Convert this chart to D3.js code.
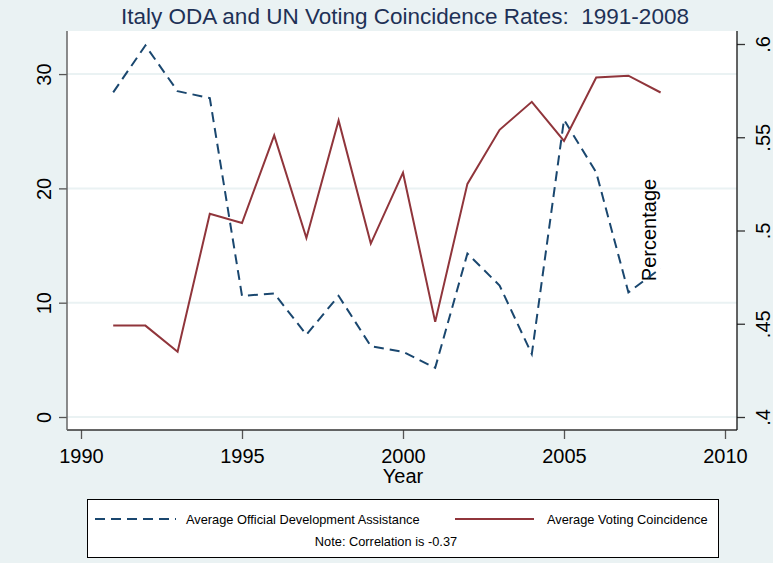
<!DOCTYPE html>
<html>
<head>
<meta charset="utf-8">
<script src="https://cdn.jsdelivr.net/npm/d3@7"></script>
<style>
  body { margin: 0; background: #eaf2f3; }
  text { font-family: "Liberation Sans", Arial, sans-serif; }
</style>
</head>
<body>
<div class="canvas"></div>
<script>
// data
const years = [1991, 1992, 1993, 1994, 1995, 1996, 1997, 1998, 1999, 2000, 2001, 2002, 2003, 2004, 2005, 2006, 2007, 2008];
const oda = [28.4, 32.5, 28.5, 27.9, 10.6, 10.8, 7.2, 10.6, 6.2, 5.7, 4.3, 14.3, 11.5, 5.5, 26.0, 21.4, 10.9, 13.0];
const voting = [0.449, 0.449, 0.435, 0.509, 0.504, 0.551, 0.496, 0.559, 0.493, 0.531, 0.451, 0.525, 0.554, 0.569, 0.548, 0.582, 0.583, 0.574];
const xTicks = [1990, 1995, 2000, 2005, 2010];
const leftTicks = [0, 10, 20, 30];
const rightTicks = [0.4, 0.45, 0.5, 0.55, 0.6];

const width = 773, height = 563;
const plot = { left: 67, right: 737, top: 31, bottom: 430 };

const navy = "#1a476f", maroon = "#90353b", bg = "#eaf2f3";

const svg = d3
  .select(".canvas")
  .append("svg")
  .attr("width", width)
  .attr("height", height);

svg.append("rect").attr("width", width).attr("height", height).attr("fill", bg);

// scales
const x = d3.scaleLinear().domain([1990, 2010]).range([81, 725]);
const yL = d3.scaleLinear().domain([0, 32.63]).range([417, 44]);
const yR = d3.scaleLinear().domain([0.4, 0.6]).range([417, 44]);

// plot region
svg.append("rect")
  .attr("x", plot.left)
  .attr("y", plot.top)
  .attr("width", plot.right - plot.left)
  .attr("height", plot.bottom - plot.top)
  .attr("fill", "#fff");

// gridlines
svg.append("g")
  .selectAll("line")
  .data(leftTicks)
  .join("line")
  .attr("x1", plot.left)
  .attr("x2", plot.right)
  .attr("y1", (d) => yL(d))
  .attr("y2", (d) => yL(d))
  .attr("stroke", bg)
  .attr("stroke-width", 2);

// title
svg.append("text")
  .attr("x", 405)
  .attr("y", 24)
  .attr("text-anchor", "middle")
  .attr("font-size", 22.5)
  .attr("fill", "#1e3156")
  .style("white-space", "pre")
  .text("Italy ODA and UN Voting Coincidence Rates:  1991-2008");

// axes
const xAxis = d3.axisBottom(x).tickValues(xTicks).tickFormat(d3.format("d")).tickSize(9).tickSizeOuter(0);
const yAxisL = d3.axisLeft(yL).tickValues(leftTicks).tickSize(8).tickSizeOuter(0);
const yAxisR = d3
  .axisRight(yR)
  .tickValues(rightTicks)
  .tickSize(8)
  .tickSizeOuter(0)
  .tickFormat((d) => d3.format(".2~f")(d).replace(/^0/, ""));

const xg = svg.append("g").attr("transform", `translate(0, ${plot.bottom})`).call(xAxis);
xg.select(".domain").remove();
xg.append("line")
  .attr("x1", plot.left)
  .attr("x2", plot.right)
  .attr("stroke", "#333")
  .attr("stroke-width", 1.3);
xg.selectAll(".tick line").attr("stroke", "#555").attr("stroke-width", 1.3);
xg.selectAll(".tick text")
  .attr("y", 33)
  .attr("dy", 0)
  .attr("font-size", 20)
  .attr("fill", "#000");

const ylg = svg.append("g").attr("transform", `translate(${plot.left}, 0)`).call(yAxisL);
ylg.select(".domain").remove();
ylg.append("line")
  .attr("y1", plot.top)
  .attr("y2", plot.bottom)
  .attr("stroke", "#666")
  .attr("stroke-width", 1.5);
ylg.selectAll(".tick line").attr("stroke", "#555").attr("stroke-width", 1.3);
ylg.selectAll(".tick text")
  .attr("x", 0)
  .attr("dy", 0)
  .attr("text-anchor", "middle")
  .attr("transform", "translate(-16, 0) rotate(-90)")
  .attr("font-size", 20)
  .attr("fill", "#000");

const yrg = svg.append("g").attr("transform", `translate(${plot.right}, 0)`).call(yAxisR);
yrg.select(".domain").remove();
yrg.append("line")
  .attr("y1", plot.top)
  .attr("y2", plot.bottom)
  .attr("stroke", "#111")
  .attr("stroke-width", 1.3);
yrg.selectAll(".tick line").attr("stroke", "#333").attr("stroke-width", 1.3);
yrg.selectAll(".tick text")
  .attr("x", 0)
  .attr("dy", 0)
  .attr("text-anchor", "middle")
  .attr("transform", "translate(33, 0) rotate(-90)")
  .attr("font-size", 20)
  .attr("fill", "#000");

// axis titles
svg.append("text")
  .attr("x", x(2000))
  .attr("y", 483)
  .attr("text-anchor", "middle")
  .attr("font-size", 20)
  .text("Year");

svg.append("text")
  .attr("transform", "translate(656, 230) rotate(-90)")
  .attr("text-anchor", "middle")
  .attr("font-size", 20)
  .text("Percentage");

// lines
const odaLine = d3
  .line()
  .x((d, i) => x(years[i]))
  .y((d) => yL(d));

const voteLine = d3
  .line()
  .x((d, i) => x(years[i]))
  .y((d) => yR(d));

svg.append("path")
  .datum(oda)
  .attr("fill", "none")
  .attr("stroke", navy)
  .attr("stroke-width", 2)
  .attr("stroke-dasharray", "10,6")
  .attr("d", odaLine);

svg.append("path")
  .datum(voting)
  .attr("fill", "none")
  .attr("stroke", maroon)
  .attr("stroke-width", 2)
  .attr("d", voteLine);

// legend
const lg = svg.append("g");
lg.append("rect")
  .attr("x", 87.5)
  .attr("y", 499.5)
  .attr("width", 631)
  .attr("height", 58)
  .attr("fill", "#fff")
  .attr("stroke", "#000")
  .attr("stroke-width", 1);

lg.append("line")
  .attr("x1", 95).attr("x2", 176)
  .attr("y1", 519).attr("y2", 519)
  .attr("stroke", navy)
  .attr("stroke-width", 2)
  .attr("stroke-dasharray", "10,6");
lg.append("text")
  .attr("x", 186).attr("y", 523.5)
  .attr("font-size", 12.8)
  .text("Average Official Development Assistance");

lg.append("line")
  .attr("x1", 455).attr("x2", 534)
  .attr("y1", 519).attr("y2", 519)
  .attr("stroke", maroon)
  .attr("stroke-width", 2);
lg.append("text")
  .attr("x", 547).attr("y", 523.5)
  .attr("font-size", 12.8)
  .text("Average Voting Coincidence");

lg.append("text")
  .attr("x", 386).attr("y", 546)
  .attr("text-anchor", "middle")
  .attr("font-size", 12.8)
  .text("Note: Correlation is -0.37");
</script>
</body>
</html>
